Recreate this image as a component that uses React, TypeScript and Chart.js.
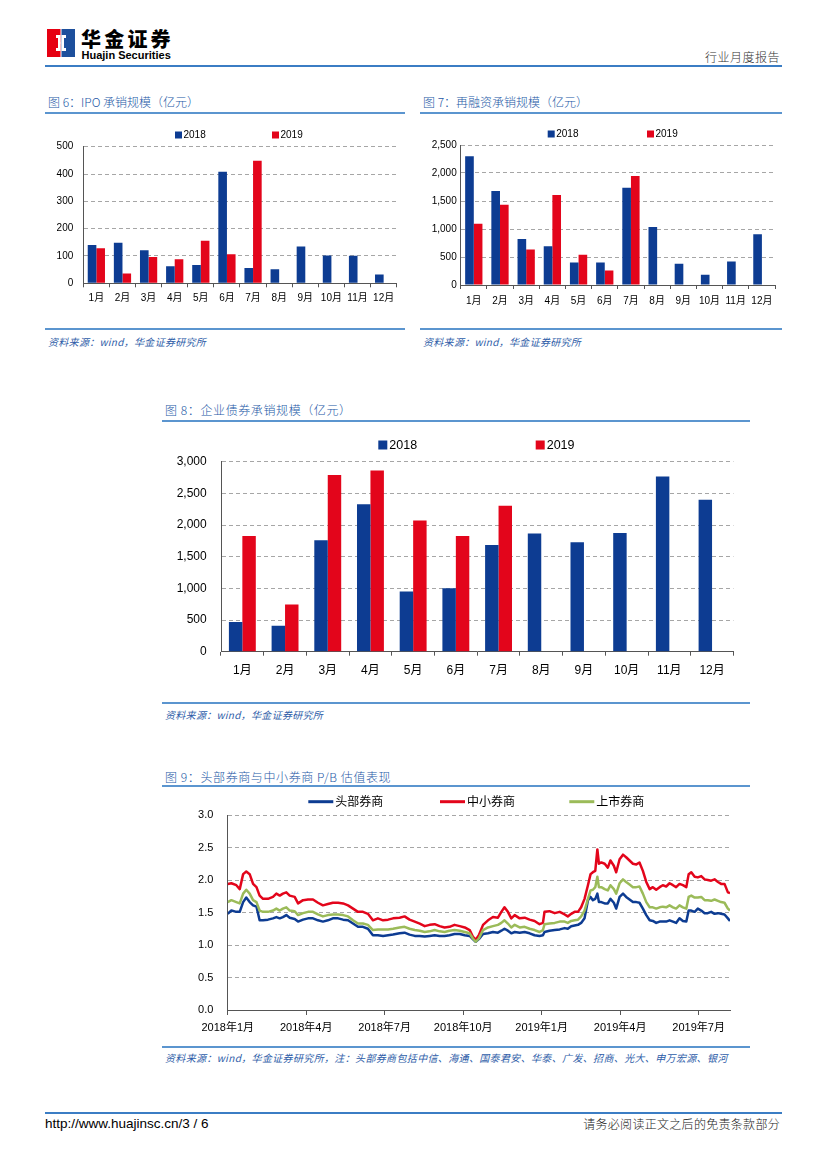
import React, { useEffect, useRef } from 'react';
import { Chart, registerables } from 'chart.js';

Chart.register(...registerables);

const FONT = "'Liberation Sans', Arial, 'Noto Sans CJK SC', sans-serif";
const CJK = "'Noto Sans CJK SC', 'Liberation Sans', sans-serif";
const BLUE = '#0D3C92';
const RED = '#E3051B';
const GREEN = '#9BBB59';
const AXIS = '#555555';
const GRID = '#A6A6A6';

// ---------- data ----------
const monthLabels = ['1月', '2月', '3月', '4月', '5月', '6月', '7月', '8月', '9月', '10月', '11月', '12月'];

const ipo2018 = [140, 148, 121, 62, 67, 408, 56, 51, 135, 102, 101, 32];
const ipo2019 = [128, 36, 96, 88, 156, 106, 449, null, null, null, null, null];

const refi2018 = [2300, 1680, 820, 690, 400, 400, 1735, 1035, 380, 185, 420, 905];
const refi2019 = [1095, 1435, 635, 1605, 540, 260, 1945, null, null, null, null, null];

const bond2018 = [470, 410, 1760, 2330, 950, 1000, 1685, 1865, 1730, 1875, 2765, 2400];
const bond2019 = [1825, 745, 2790, 2860, 2070, 1825, 2305, null, null, null, null, null];

// months since 2018-01
const pbMonths = [
  0, 0.14, 0.33, 0.46, 0.59, 0.71, 0.84, 0.97, 1.1, 1.22, 1.35, 1.54, 1.73, 1.86, 1.99, 2.11, 2.24, 2.37, 2.56, 2.69,
  2.88, 3.07, 3.26, 3.45, 3.64, 3.83, 4.02, 4.22, 4.41, 4.6, 4.79, 4.98, 5.17, 5.36, 5.55, 5.74, 5.94, 6.13, 6.32,
  6.57, 6.76, 6.95, 7.15, 7.34, 7.53, 7.72, 7.91, 8.1, 8.29, 8.48, 8.67, 8.87, 9.06, 9.25, 9.37, 9.48, 9.6, 9.76,
  9.95, 10.14, 10.33, 10.46, 10.58, 10.71, 10.84, 10.97, 11.16, 11.35, 11.54, 11.73, 11.92, 12.05, 12.11, 12.3, 12.5, 12.69,
  12.88, 13.0, 13.13, 13.26, 13.39, 13.51, 13.64, 13.77, 13.87, 13.96, 14.05, 14.13, 14.19, 14.28, 14.41, 14.53, 14.63,
  14.76, 14.85, 14.98, 15.11, 15.23, 15.36, 15.49, 15.62, 15.74, 15.87, 16.0, 16.13, 16.25, 16.38, 16.51, 16.63, 16.76,
  16.89, 17.02, 17.14, 17.27, 17.4, 17.53, 17.62, 17.72, 17.85, 17.97, 18.1, 18.23, 18.35, 18.48, 18.61, 18.74, 18.86,
  18.99, 19.12, 19.2,
];

const pbHead = [
  1.48, 1.53, 1.51, 1.51, 1.66, 1.73, 1.66, 1.61, 1.59, 1.38, 1.38, 1.39, 1.41, 1.43, 1.41, 1.43, 1.46, 1.42, 1.4, 1.36,
  1.39, 1.41, 1.41, 1.38, 1.36, 1.38, 1.41, 1.41, 1.39, 1.38, 1.33, 1.28, 1.28, 1.25, 1.15, 1.15, 1.14, 1.15, 1.16,
  1.18, 1.19, 1.16, 1.14, 1.14, 1.13, 1.14, 1.15, 1.14, 1.14, 1.15, 1.17, 1.17, 1.15, 1.14, 1.09, 1.05, 1.09, 1.17,
  1.18, 1.2, 1.19, 1.22, 1.25, 1.22, 1.18, 1.2, 1.19, 1.2, 1.18, 1.15, 1.14, 1.15, 1.2, 1.22, 1.23, 1.24,
  1.26, 1.25, 1.29, 1.3, 1.31, 1.34, 1.41, 1.69, 1.74, 1.69, 1.71, 1.79, 1.66, 1.66, 1.64, 1.64, 1.71,
  1.65, 1.56, 1.74, 1.79, 1.74, 1.7, 1.66, 1.66, 1.65, 1.56, 1.46, 1.38, 1.37, 1.34, 1.36, 1.36, 1.36,
  1.38, 1.36, 1.34, 1.41, 1.37, 1.36, 1.53, 1.53, 1.51, 1.56, 1.53, 1.49, 1.49, 1.51, 1.48, 1.49, 1.48,
  1.47, 1.41, 1.37,
];

const pbSmall = [
  1.94, 1.95, 1.92, 1.86, 2.09, 2.13, 2.09, 1.94, 1.89, 1.76, 1.71, 1.71, 1.74, 1.79, 1.76, 1.79, 1.81, 1.76, 1.74, 1.64,
  1.69, 1.7, 1.7, 1.65, 1.61, 1.63, 1.65, 1.65, 1.64, 1.61, 1.56, 1.51, 1.51, 1.48, 1.38, 1.41, 1.38, 1.39, 1.41,
  1.42, 1.44, 1.39, 1.36, 1.33, 1.29, 1.31, 1.32, 1.29, 1.27, 1.28, 1.31, 1.29, 1.27, 1.23, 1.13, 1.08, 1.15, 1.31,
  1.38, 1.43, 1.42, 1.51, 1.58, 1.51, 1.41, 1.46, 1.41, 1.42, 1.39, 1.37, 1.32, 1.34, 1.51, 1.52, 1.49, 1.51,
  1.47, 1.44, 1.48, 1.51, 1.51, 1.58, 1.71, 1.92, 2.09, 2.12, 2.14, 2.47, 2.25, 2.27, 2.25, 2.19, 2.3,
  2.22, 2.12, 2.32, 2.39, 2.35, 2.3, 2.25, 2.24, 2.27, 2.14, 1.97, 1.86, 1.89, 1.85, 1.89, 1.92, 1.9,
  1.95, 1.92, 1.89, 1.94, 1.92, 1.89, 2.09, 2.12, 2.05, 2.04, 2.06, 2.01, 2.0, 1.99, 2.01, 1.97, 1.94,
  1.94, 1.81, 1.8,
];

const pbListed = [
  1.66, 1.69, 1.66, 1.64, 1.79, 1.85, 1.79, 1.69, 1.66, 1.53, 1.51, 1.51, 1.53, 1.56, 1.53, 1.56, 1.58, 1.53, 1.52, 1.46,
  1.49, 1.51, 1.51, 1.47, 1.44, 1.46, 1.47, 1.47, 1.46, 1.44, 1.38, 1.33, 1.33, 1.31, 1.23, 1.24, 1.24, 1.24, 1.25,
  1.27, 1.28, 1.25, 1.23, 1.22, 1.2, 1.21, 1.23, 1.21, 1.2, 1.22, 1.23, 1.22, 1.2, 1.18, 1.1, 1.05, 1.1, 1.23,
  1.27, 1.29, 1.31, 1.34, 1.38, 1.33, 1.27, 1.31, 1.27, 1.28, 1.25, 1.23, 1.2, 1.23, 1.32, 1.33, 1.34, 1.36,
  1.36, 1.34, 1.37, 1.38, 1.39, 1.44, 1.53, 1.71, 1.84, 1.85, 1.89, 2.05, 1.89, 1.89, 1.86, 1.84, 1.92,
  1.86, 1.79, 1.95, 2.01, 1.97, 1.93, 1.89, 1.89, 1.9, 1.79, 1.66, 1.58, 1.58, 1.56, 1.58, 1.59, 1.58,
  1.61, 1.58, 1.56, 1.61, 1.58, 1.56, 1.74, 1.76, 1.73, 1.73, 1.74, 1.69, 1.69, 1.68, 1.7, 1.68, 1.66,
  1.65, 1.56, 1.53,
];

const pbTickMonths = [0, 3, 6, 9, 12, 15, 18];
const pbTickLabels = ['2018年1月', '2018年4月', '2018年7月', '2018年10月', '2019年1月', '2019年4月', '2019年7月'];

// ---------- legend plugin ----------
type LegendCfg = { kind: 'box' | 'line'; y: number; xs: number[]; size: number; gap: number; font: number; order: number[] };

function makeLegend(cfg: LegendCfg) {
  return {
    id: 'customLegend',
    afterDraw(chart: any) {
      const ctx = chart.ctx;
      ctx.save();
      ctx.font = `${cfg.font}px ${FONT}`;
      ctx.textBaseline = 'middle';
      ctx.textAlign = 'left';
      cfg.xs.forEach((x, i) => {
        const ds = chart.data.datasets[cfg.order[i]];
        if (cfg.kind === 'box') {
          ctx.fillStyle = ds.backgroundColor;
          ctx.fillRect(x, cfg.y - cfg.size / 2, cfg.size, cfg.size);
        } else {
          ctx.strokeStyle = ds.borderColor;
          ctx.lineWidth = 3;
          ctx.beginPath();
          ctx.moveTo(x, cfg.y);
          ctx.lineTo(x + cfg.size, cfg.y);
          ctx.stroke();
        }
        ctx.fillStyle = '#000';
        ctx.fillText(ds.label, x + cfg.size + cfg.gap, cfg.y + 0.5);
      });
      ctx.restore();
    },
  };
}

type Area = { left: number; top: number; right: number; bottom: number };

type BarProps = {
  left: number; top: number; width: number; height: number; area: Area;
  a: (number | null)[]; b: (number | null)[];
  yMax: number; yStep: number; tickFont: number; xPad: number; yPad: number; catPct: number;
  legend: LegendCfg;
};

function BarPanel(p: BarProps) {
  const ref = useRef<HTMLCanvasElement | null>(null);
  useEffect(() => {
    if (!ref.current) return;
    const font = { family: FONT, size: p.tickFont };
    const chart = new Chart(ref.current, {
      type: 'bar',
      data: {
        labels: monthLabels,
        datasets: [
          { label: '2018', data: p.a, backgroundColor: BLUE, barPercentage: 1, categoryPercentage: p.catPct },
          { label: '2019', data: p.b, backgroundColor: RED, barPercentage: 1, categoryPercentage: p.catPct },
        ],
      },
      options: {
        animation: false,
        responsive: false,
        maintainAspectRatio: false,
        events: [],
        layout: { padding: { left: 0, top: p.area.top, right: p.width - p.area.right, bottom: 0 } },
        plugins: { legend: { display: false }, tooltip: { enabled: false } },
        scales: {
          x: {
            grid: { offset: true, drawOnChartArea: false, drawTicks: true, tickLength: 4, color: AXIS },
            border: { color: AXIS },
            ticks: { font, color: '#000', padding: p.xPad, maxRotation: 0, autoSkip: false },
            afterFit: (s: any) => { s.height = p.height - p.area.bottom; },
          },
          y: {
            min: 0,
            max: p.yMax,
            ticks: {
              stepSize: p.yStep,
              font,
              color: '#000',
              padding: p.yPad,
              callback: (v: any) => Number(v).toLocaleString('en-US'),
            },
            grid: {
              drawTicks: false,
              color: (c: any) => (c.tick && c.tick.value === 0 ? 'rgba(0,0,0,0)' : GRID),
            },
            border: { color: AXIS, dash: [4, 3] },
            afterFit: (s: any) => { s.width = p.area.left; },
          },
        },
      } as any,
      plugins: [makeLegend(p.legend)],
    });
    return () => chart.destroy();
  }, []);
  return (
    <canvas
      ref={ref}
      width={p.width}
      height={p.height}
      style={{ position: 'absolute', left: p.left, top: p.top, width: p.width, height: p.height }}
    />
  );
}

function LinePanel() {
  const ref = useRef<HTMLCanvasElement | null>(null);
  const W = 588, H = 250;
  const area: Area = { left: 65.7, top: 23, right: 568, bottom: 218 };
  useEffect(() => {
    if (!ref.current) return;
    const font = { family: FONT, size: 11 };
    const mk = (vals: number[]) => pbMonths.map((m, i) => ({ x: m, y: vals[i] }));
    const common = { pointRadius: 0, borderWidth: 2.5, tension: 0, fill: false, borderJoinStyle: 'round' as const };
    const chart = new Chart(ref.current, {
      type: 'line',
      data: {
        datasets: [
          { label: '头部券商', data: mk(pbHead), borderColor: BLUE, backgroundColor: BLUE, order: 3, ...common },
          { label: '中小券商', data: mk(pbSmall), borderColor: RED, backgroundColor: RED, order: 2, ...common },
          { label: '上市券商', data: mk(pbListed), borderColor: GREEN, backgroundColor: GREEN, order: 1, ...common },
        ],
      },
      options: {
        animation: false,
        responsive: false,
        maintainAspectRatio: false,
        events: [],
        layout: { padding: { left: 0, top: area.top, right: W - area.right, bottom: 0 } },
        plugins: { legend: { display: false }, tooltip: { enabled: false } },
        scales: {
          x: {
            type: 'linear',
            min: 0,
            max: 19.2,
            afterBuildTicks: (s: any) => { s.ticks = pbTickMonths.map((v) => ({ value: v })); },
            ticks: {
              font,
              color: '#000',
              padding: 6,
              maxRotation: 0,
              autoSkip: false,
              callback: (v: any) => {
                const i = pbTickMonths.indexOf(Number(v));
                return i >= 0 ? pbTickLabels[i] : '';
              },
            },
            grid: { drawOnChartArea: false, drawTicks: true, tickLength: 5, color: AXIS },
            border: { color: AXIS },
            afterFit: (s: any) => { s.height = H - area.bottom; },
          },
          y: {
            min: 0,
            max: 3,
            ticks: { stepSize: 0.5, font, color: '#000', padding: 14.4, callback: (v: any) => Number(v).toFixed(1) },
            grid: {
              drawTicks: false,
              color: (c: any) => (c.tick && c.tick.value === 0 ? 'rgba(0,0,0,0)' : GRID),
            },
            border: { color: AXIS, dash: [4, 3] },
            afterFit: (s: any) => { s.width = area.left; },
          },
        },
      } as any,
      plugins: [makeLegend({ kind: 'line', y: 9.7, xs: [146.3, 278, 407.3], size: 25, gap: 2, font: 12, order: [0, 1, 2] })],
    });
    return () => chart.destroy();
  }, []);
  return (
    <canvas ref={ref} width={W} height={H} style={{ position: 'absolute', left: 162, top: 792, width: W, height: H }} />
  );
}

// ---------- page helpers ----------
function Txt(props: {
  x: number; cy: number; size: number; color?: string; right?: boolean; italic?: boolean;
  weight?: number; family?: string; spacing?: number; children: React.ReactNode;
}) {
  const lh = Math.round(props.size * 1.3);
  const style: React.CSSProperties = {
    position: 'absolute',
    top: props.cy - lh / 2,
    fontSize: props.size,
    lineHeight: lh + 'px',
    color: props.color || '#000',
    fontStyle: props.italic ? 'italic' : 'normal',
    fontWeight: props.weight || 400,
    fontFamily: props.family || CJK,
    letterSpacing: props.spacing ? props.spacing + 'px' : undefined,
    whiteSpace: 'nowrap',
  };
  if (props.right) style.right = 827 - props.x;
  else style.left = props.x;
  return <div style={style}>{props.children}</div>;
}

function HLine(props: { x1: number; x2: number; y: number; h?: number; color?: string }) {
  const h = props.h || 2;
  return (
    <div
      style={{
        position: 'absolute',
        left: props.x1,
        top: props.y - h / 2,
        width: props.x2 - props.x1,
        height: h,
        background: props.color || '#5B95CF',
      }}
    />
  );
}

const TITLE = '#2458A6';
const SRC = '#2E5DA8';
const SEC = '#5B95CF';

export default function App() {
  useEffect(() => {
    document.body.style.margin = '0';
  }, []);
  return (
    <div style={{ position: 'absolute', left: 0, top: 0, width: 827, height: 1169, background: '#fff', overflow: 'hidden' }}>
      {/* header */}
      <svg width={28} height={28} viewBox="0 0 28 28" style={{ position: 'absolute', left: 47, top: 29 }}>
        <rect x={0} y={0} width={13.5} height={28} fill="#E60012" />
        <rect x={14.5} y={0} width={13.5} height={28} fill="#1D4F9C" />
        <polygon points="9,6 13.5,6 13.5,22 9,22 9,19 11,19 11,9 9,9" fill="#fff" />
        <polygon points="19,6 14.5,6 14.5,22 19,22 19,19 17,19 17,9 19,9" fill="#fff" />
        <polygon points="11,12 14,14 11,16" fill="#fff" />
      </svg>
      <Txt x={81} cy={39} size={20} weight={900} spacing={3.2}>华金证券</Txt>
      <Txt x={81.5} cy={55} size={11} weight={700} family={FONT}>Huajin Securities</Txt>
      <Txt x={780} cy={57} size={12} right color="#333" weight={300} spacing={0.5}>行业月度报告</Txt>
      <HLine x1={45} x2={782} y={66} h={2} color="#3B7DC4" />

      {/* chart 6 */}
      <Txt x={48} cy={102} size={12} color={TITLE} weight={300}>图 6：IPO 承销规模（亿元）</Txt>
      <HLine x1={45} x2={405} y={113} color={SEC} />
      <BarPanel
        left={45} top={118} width={360} height={200}
        area={{ left: 38.3, top: 28.7, right: 351.7, bottom: 165.3 }}
        a={ipo2018} b={ipo2019} yMax={500} yStep={100} tickFont={10} xPad={5} yPad={10} catPct={0.66}
        legend={{ kind: 'box', y: 17, xs: [130, 227], size: 7, gap: 1.5, font: 10, order: [0, 1] }}
      />
      <HLine x1={45} x2={405} y={329} color={SEC} />
      <Txt x={48} cy={341} size={10} italic color={SRC} spacing={0.3}>资料来源：wind，华金证券研究所</Txt>

      {/* chart 7 */}
      <Txt x={423} cy={102} size={12} color={TITLE} weight={300}>图 7：再融资承销规模（亿元）</Txt>
      <HLine x1={420} x2={782} y={113} color={SEC} />
      <BarPanel
        left={420} top={118} width={362} height={200}
        area={{ left: 40.7, top: 27, right: 355, bottom: 167 }}
        a={refi2018} b={refi2019} yMax={2500} yStep={500} tickFont={10} xPad={6.7} yPad={4} catPct={0.66}
        legend={{ kind: 'box', y: 16, xs: [127.7, 227], size: 7, gap: 1.5, font: 10, order: [0, 1] }}
      />
      <HLine x1={420} x2={782} y={329} color={SEC} />
      <Txt x={423} cy={341} size={10} italic color={SRC} spacing={0.3}>资料来源：wind，华金证券研究所</Txt>

      {/* chart 8 */}
      <Txt x={165} cy={410} size={12} color={TITLE} weight={300} spacing={0.6}>图 8：企业债券承销规模（亿元）</Txt>
      <HLine x1={162} x2={750} y={420.5} color={SEC} />
      <BarPanel
        left={162} top={428} width={588} height={272}
        area={{ left: 59, top: 33.7, right: 571.4, bottom: 223.7 }}
        a={bond2018} b={bond2019} yMax={3000} yStep={500} tickFont={12} xPad={8} yPad={14.3} catPct={0.63}
        legend={{ kind: 'box', y: 17, xs: [216.3, 373.7], size: 9, gap: 2, font: 12.5, order: [0, 1] }}
      />
      <HLine x1={162} x2={750} y={702.5} color={SEC} />
      <Txt x={165} cy={714} size={10} italic color={SRC} spacing={0.3}>资料来源：wind，华金证券研究所</Txt>

      {/* chart 9 */}
      <Txt x={165} cy={777} size={12} color={TITLE} weight={300} spacing={0.6}>图 9：头部券商与中小券商 P/B 估值表现</Txt>
      <HLine x1={162} x2={750} y={786} color={SEC} />
      <LinePanel />
      <HLine x1={162} x2={750} y={1046.5} color={SEC} />
      <Txt x={165} cy={1057} size={10} italic color={SRC} spacing={0.35}>
        资料来源：wind，华金证券研究所，注：头部券商包括中信、海通、国泰君安、华泰、广发、招商、光大、申万宏源、银河
      </Txt>

      {/* footer */}
      <HLine x1={45} x2={782} y={1113} h={1.5} color="#3B7DC4" />
      <Txt x={45} cy={1124} size={13.5} family={FONT}>http://www.huajinsc.cn/3 / 6</Txt>
      <Txt x={780} cy={1124} size={12} right color="#222" weight={300} spacing={0.3}>请务必阅读正文之后的免责条款部分</Txt>
    </div>
  );
}
